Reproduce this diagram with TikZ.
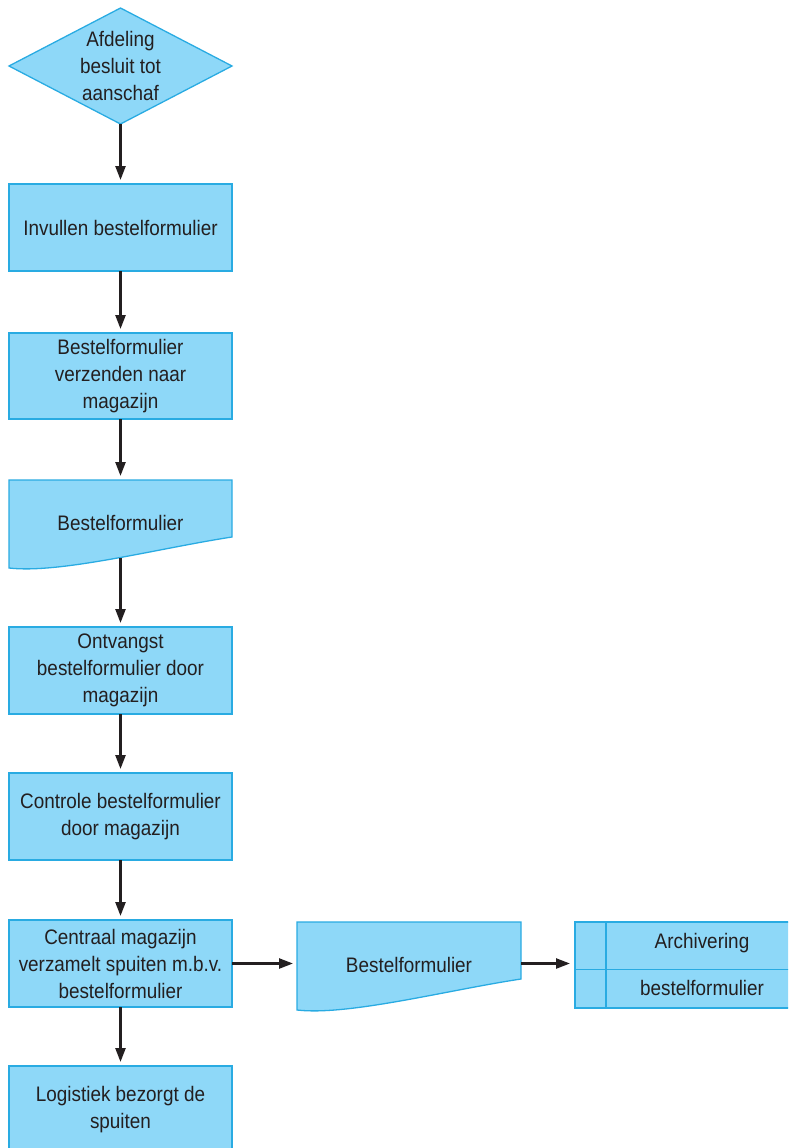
\documentclass[tikz,border=0pt]{standalone}
\usepackage{fontspec}
\setmainfont{Liberation Sans}[FakeStretch=0.9]
\usetikzlibrary{arrows.meta,shapes.geometric}
\definecolor{boxfill}{HTML}{8ED8F8}
\definecolor{boxline}{HTML}{29ABE2}
\definecolor{ink}{HTML}{231F20}

% outline of a document symbol, fitted to an (invisible) node
\newcommand{\docoutline}[1]{%
  \path[shapeline] (#1.north west) -- (#1.north east) -- ([yshift=-57pt]#1.north east)
    .. controls ([xshift=151pt,yshift=-68pt]#1.north west) and ([xshift=51pt,yshift=-94pt]#1.north west)
    .. ([yshift=-88pt]#1.north west) -- cycle;}

\begin{document}
\begin{tikzpicture}[x=1pt,y=-1pt,
  every node/.style={font=\fontsize{21}{27}\selectfont, text=ink, align=center},
  shapeline/.style={draw=boxline, fill=boxfill, line width=1.3pt},
  stepbox/.style={shapeline, rectangle, minimum width=223pt, minimum height=87pt, inner sep=0pt, outer sep=0pt},
  frame/.style={rectangle, minimum width=#1, minimum height=88pt, inner sep=0pt, outer sep=0pt},
  flow/.style={draw=ink, line width=2.4pt, shorten >=4pt, -{Triangle[length=14pt,width=10pt]}}
]
\useasboundingbox (0,0) rectangle (788,1148);
\clip (0,0) rectangle (788,1148);

% decision
\node[diamond, shapeline, minimum width=223pt, minimum height=116pt, inner sep=0pt, outer sep=0pt] (dec) at (120.5,66) {};
\node (dect) at (dec.center) {Afdeling\\besluit tot\\aanschaf};

% process steps
\node[stepbox] (b1) at (120.5,227.5) {Invullen bestelformulier};
\node[stepbox, minimum height=86pt] (b2) at (120.5,376) {Bestelformulier\\verzenden naar\\magazijn};

% order form document
\node[frame=223pt] (doc1) at (120.5,524) {};
\docoutline{doc1}
\node (doc1t) at (120.5,523) {Bestelformulier};
\coordinate (doc1b) at (120.5,558);

\node[stepbox] (b3) at (120.5,670.5) {Ontvangst\\bestelformulier door\\magazijn};
\node[stepbox] (b4) at (120.5,816.5) {Controle bestelformulier\\door magazijn};
\node[stepbox] (b5) at (120.5,963.5) {Centraal magazijn\\verzamelt spuiten m.b.v.\\bestelformulier};
\node[stepbox] (b6) at (120.5,1109.5) {Logistiek bezorgt de\\spuiten};

% second copy of the document
\node[frame=224pt] (doc2) at (409,966) {};
\docoutline{doc2}
\node (doc2t) at (409,965) {Bestelformulier};

% archive
\node[shapeline, rectangle, minimum width=225pt, minimum height=86pt, inner sep=0pt, outer sep=0pt] (arch) at (687.5,965) {};
\draw[boxline, line width=1.3pt] ([xshift=31pt]arch.north west) -- ([xshift=31pt]arch.south west);
\draw[boxline, line width=1.3pt] ([yshift=-47.5pt]arch.north west) -- ([yshift=-47.5pt]arch.north east);
\node (archa) at (702,943) {Archivering};
\node (archb) at (702,988) {bestelformulier};

% connectors
\draw[flow] (dec.south) -- (b1.north);
\draw[flow] (b1.south) -- (b2.north);
\draw[flow] (b2.south) -- (doc1.north);
\draw[flow] (doc1b) -- (b3.north);
\draw[flow] (b3.south) -- (b4.north);
\draw[flow] (b4.south) -- (b5.north);
\draw[flow] (b5.south) -- (b6.north);
\draw[flow] (b5.east) -- (b5.east -| doc2.west);
\draw[flow, shorten >=5pt] (b5.east -| doc2.east) -- (b5.east -| arch.west);
\end{tikzpicture}
\end{document}
